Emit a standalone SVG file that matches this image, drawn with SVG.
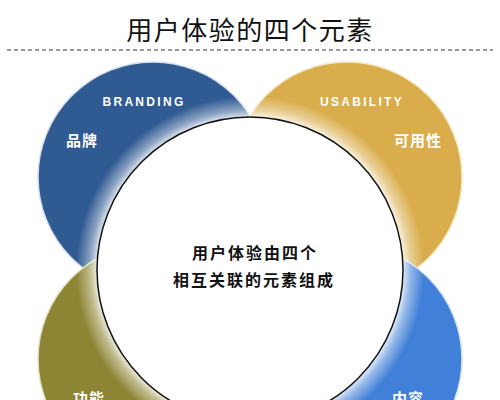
<svg xmlns="http://www.w3.org/2000/svg" width="500" height="400" viewBox="0 0 500 400">
  <style>
    .title { font-family: "Noto Sans CJK SC", "Liberation Sans", sans-serif; font-size: 26px; fill: #111; letter-spacing: 1.5px; }
    .en { font-family: "Liberation Sans", "DejaVu Sans", sans-serif; font-size: 12px; font-weight: bold; fill: #fff; letter-spacing: 2.3px; }
    .cn { font-family: "Noto Sans CJK SC", "Liberation Sans", sans-serif; font-size: 15px; font-weight: bold; fill: #fff; letter-spacing: 1px; }
    .center { font-family: "Noto Sans CJK SC", "Liberation Sans", sans-serif; font-size: 16px; font-weight: bold; fill: #111; letter-spacing: 2px; }
    .lobe { stroke-width: 1.5; }
  </style>
  <defs>
    <radialGradient id="glow" gradientUnits="userSpaceOnUse" cx="250" cy="270" r="174">
      <stop offset="0.87" stop-color="#fff" stop-opacity="0.92"/>
      <stop offset="0.92" stop-color="#fff" stop-opacity="0.45"/>
      <stop offset="1" stop-color="#fff" stop-opacity="0"/>
    </radialGradient>
  </defs>
  <rect width="500" height="400" fill="#fff"/>
  <g id="title">
    <text class="title" x="250" y="40" text-anchor="middle">用户体验的四个元素</text>
    <line x1="7" y1="50" x2="493" y2="50" stroke="#999" stroke-width="1.8" stroke-dasharray="4,3"/>
  </g>
  <g id="branding">
    <circle class="lobe" cx="153" cy="177" r="115" fill="#2F5A92" stroke="#d6e0ee"/>
  </g>
  <g id="usability">
    <circle class="lobe" cx="347" cy="177" r="115" fill="#D9AD4B" stroke="#f3e6c4"/>
  </g>
  <g id="function">
    <circle class="lobe" cx="153" cy="359" r="115" fill="#8D8434" stroke="#e4e0c0"/>
  </g>
  <g id="content">
    <circle class="lobe" cx="347" cy="359" r="115" fill="#4180D8" stroke="#d4e2f6"/>
  </g>
  <circle cx="250" cy="270" r="174" fill="url(#glow)"/>
  <g id="labels">
    <text class="en" x="144" y="106" text-anchor="middle">BRANDING</text>
    <text class="cn" x="82" y="146" text-anchor="middle">品牌</text>
    <text class="en" x="362" y="106" text-anchor="middle">USABILITY</text>
    <text class="cn" x="418" y="146" text-anchor="middle">可用性</text>
    <text class="cn" x="89" y="404" text-anchor="middle">功能</text>
    <text class="cn" x="408" y="404" text-anchor="middle">内容</text>
  </g>
  <g id="core">
    <circle cx="250" cy="270" r="153" fill="#fff" stroke="#111" stroke-width="1.5"/>
    <text class="center" x="255" y="259" text-anchor="middle">用户体验由四个</text>
    <text class="center" x="254" y="286" text-anchor="middle">相互关联的元素组成</text>
  </g>
</svg>
